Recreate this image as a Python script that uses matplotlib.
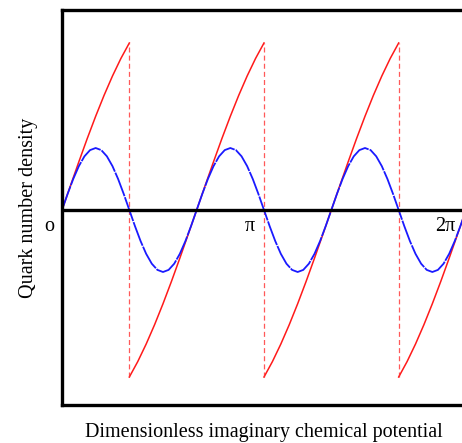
import numpy as np
import matplotlib
matplotlib.use("Agg")
import matplotlib.pyplot as plt

plt.rcParams['font.family'] = ['Liberation Serif', 'DejaVu Serif']

# blue curve, sampled every pi/36 from 0 to 2pi (units: blue amplitude = 1)
blue_period = [0, 0.259, 0.5, 0.707, 0.866, 0.966, 1, 0.966, 0.866, 0.707, 0.5, 0.259,
               0, -0.259, -0.5, -0.707, -0.866, -0.966, -1, -0.966, -0.866, -0.707, -0.5, -0.259]
blue_y = blue_period * 3 + [0]
blue_x = np.arange(len(blue_y)) * np.pi / 36

# red branch, sampled every pi/24 over one branch (-pi/3 .. pi/3)
red_branch = [-2.694, -2.445, -2.162, -1.850, -1.512, -1.153, -0.777, -0.391, 0,
              0.391, 0.777, 1.153, 1.512, 1.850, 2.162, 2.445, 2.694]
branch_starts = [-np.pi / 3, np.pi / 3, np.pi, 5 * np.pi / 3]
jump_x = [np.pi / 3, np.pi, 5 * np.pi / 3]

fig = plt.figure(figsize=(4.62, 4.43), dpi=100)
ax = fig.add_axes([62 / 462, 1 - 405 / 443, 404 / 462, 395 / 443])

for x0 in branch_starts:
    xs = x0 + np.arange(len(red_branch)) * np.pi / 24
    ax.plot(xs, red_branch, color='#ff1a1a', lw=1.1)

ax.vlines(jump_x, red_branch[0], red_branch[-1], color='#ff3030', lw=0.9,
          linestyles=(0, (4, 2.5)), alpha=0.8)

ax.plot(blue_x, blue_y, color='#1a1aff', lw=1.3, dashes=(14, 0.6))

ax.axhline(0, color='black', lw=2.4)

ax.set_xlim(0, 2 * np.pi)
ax.set_ylim(-195 / 62, 200 / 62)
ax.set_xticks([])
ax.set_yticks([])
for s in ax.spines.values():
    s.set_linewidth(2.4)

ax.text(-0.2, -0.12, 'o', fontsize=14.5, ha='center', va='top', clip_on=False)
ax.text(2.92, -0.12, 'π', fontsize=14.5, ha='center', va='top')
ax.text(5.96, -0.12, '2π', fontsize=14.5, ha='center', va='top')

ax.set_xlabel('Dimensionless imaginary chemical potential', fontsize=14.5, labelpad=13)
ax.set_ylabel('Quark number density', fontsize=14.5, labelpad=17)

fig.savefig('out.png', dpi=100)
